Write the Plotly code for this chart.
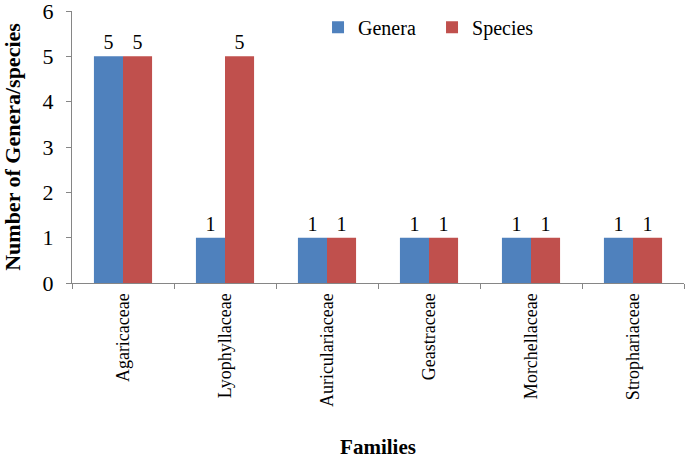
import plotly.graph_objects as go

families = ["Agaricaceae", "Lyophyllaceae", "Auriculariaceae", "Geastraceae", "Morchellaceae", "Strophariaceae"]
genera = [5, 1, 1, 1, 1, 1]
species = [5, 5, 1, 1, 1, 1]

FONT = "Liberation Serif, Times New Roman, serif"

fig = go.Figure()
fig.add_trace(go.Bar(name="Genera", x=families, y=genera, marker=dict(color="#4F81BD", line=dict(width=0)),
                     text=genera, textposition="outside", cliponaxis=False,
                     textfont=dict(family=FONT, size=20, color="black")))
fig.add_trace(go.Bar(name="Species", x=families, y=species, marker=dict(color="#C0504D", line=dict(width=0)),
                     text=species, textposition="outside", cliponaxis=False,
                     textfont=dict(family=FONT, size=20, color="black")))

fig.update_layout(
    width=685, height=459,
    margin=dict(l=72, r=1, t=11, b=176, autoexpand=False),
    paper_bgcolor="white", plot_bgcolor="white",
    barmode="group", bargap=0.43, bargroupgap=0,
    font=dict(family=FONT, color="black"),
    showlegend=True,
    legend=dict(orientation="h", x=0.402, y=0.94, xanchor="left", yanchor="middle",
                font=dict(family=FONT, size=20), entrywidth=69, entrywidthmode="pixels",
                itemwidth=30, bgcolor="rgba(0,0,0,0)"),
    xaxis=dict(showline=True, linecolor="#868686", linewidth=1, ticks="outside", tickson="boundaries",
               ticklen=5, tickcolor="#868686", tickangle=-90, tickfont=dict(family=FONT, size=18),
               showgrid=False, automargin=False, ticklabeloverflow="allow", ticklabelstandoff=2,
               title=dict(text="<b>Families</b>", font=dict(family=FONT, size=21), standoff=33)),
    yaxis=dict(range=[0, 6], dtick=1, showline=True, linecolor="#868686", linewidth=1, ticks="outside",
               ticklen=5, tickcolor="#868686", tickfont=dict(family=FONT, size=22), showgrid=False,
               zeroline=False, automargin=False, ticklabeloverflow="allow", ticklabelstandoff=8,
               title=dict(text="<b>Number of Genera/species</b>", font=dict(family=FONT, size=22), standoff=16)),
)

fig.write_html("out.html", config={"displayModeBar": False},
               post_script="document.body.style.margin='0';document.body.style.overflow='hidden';")
